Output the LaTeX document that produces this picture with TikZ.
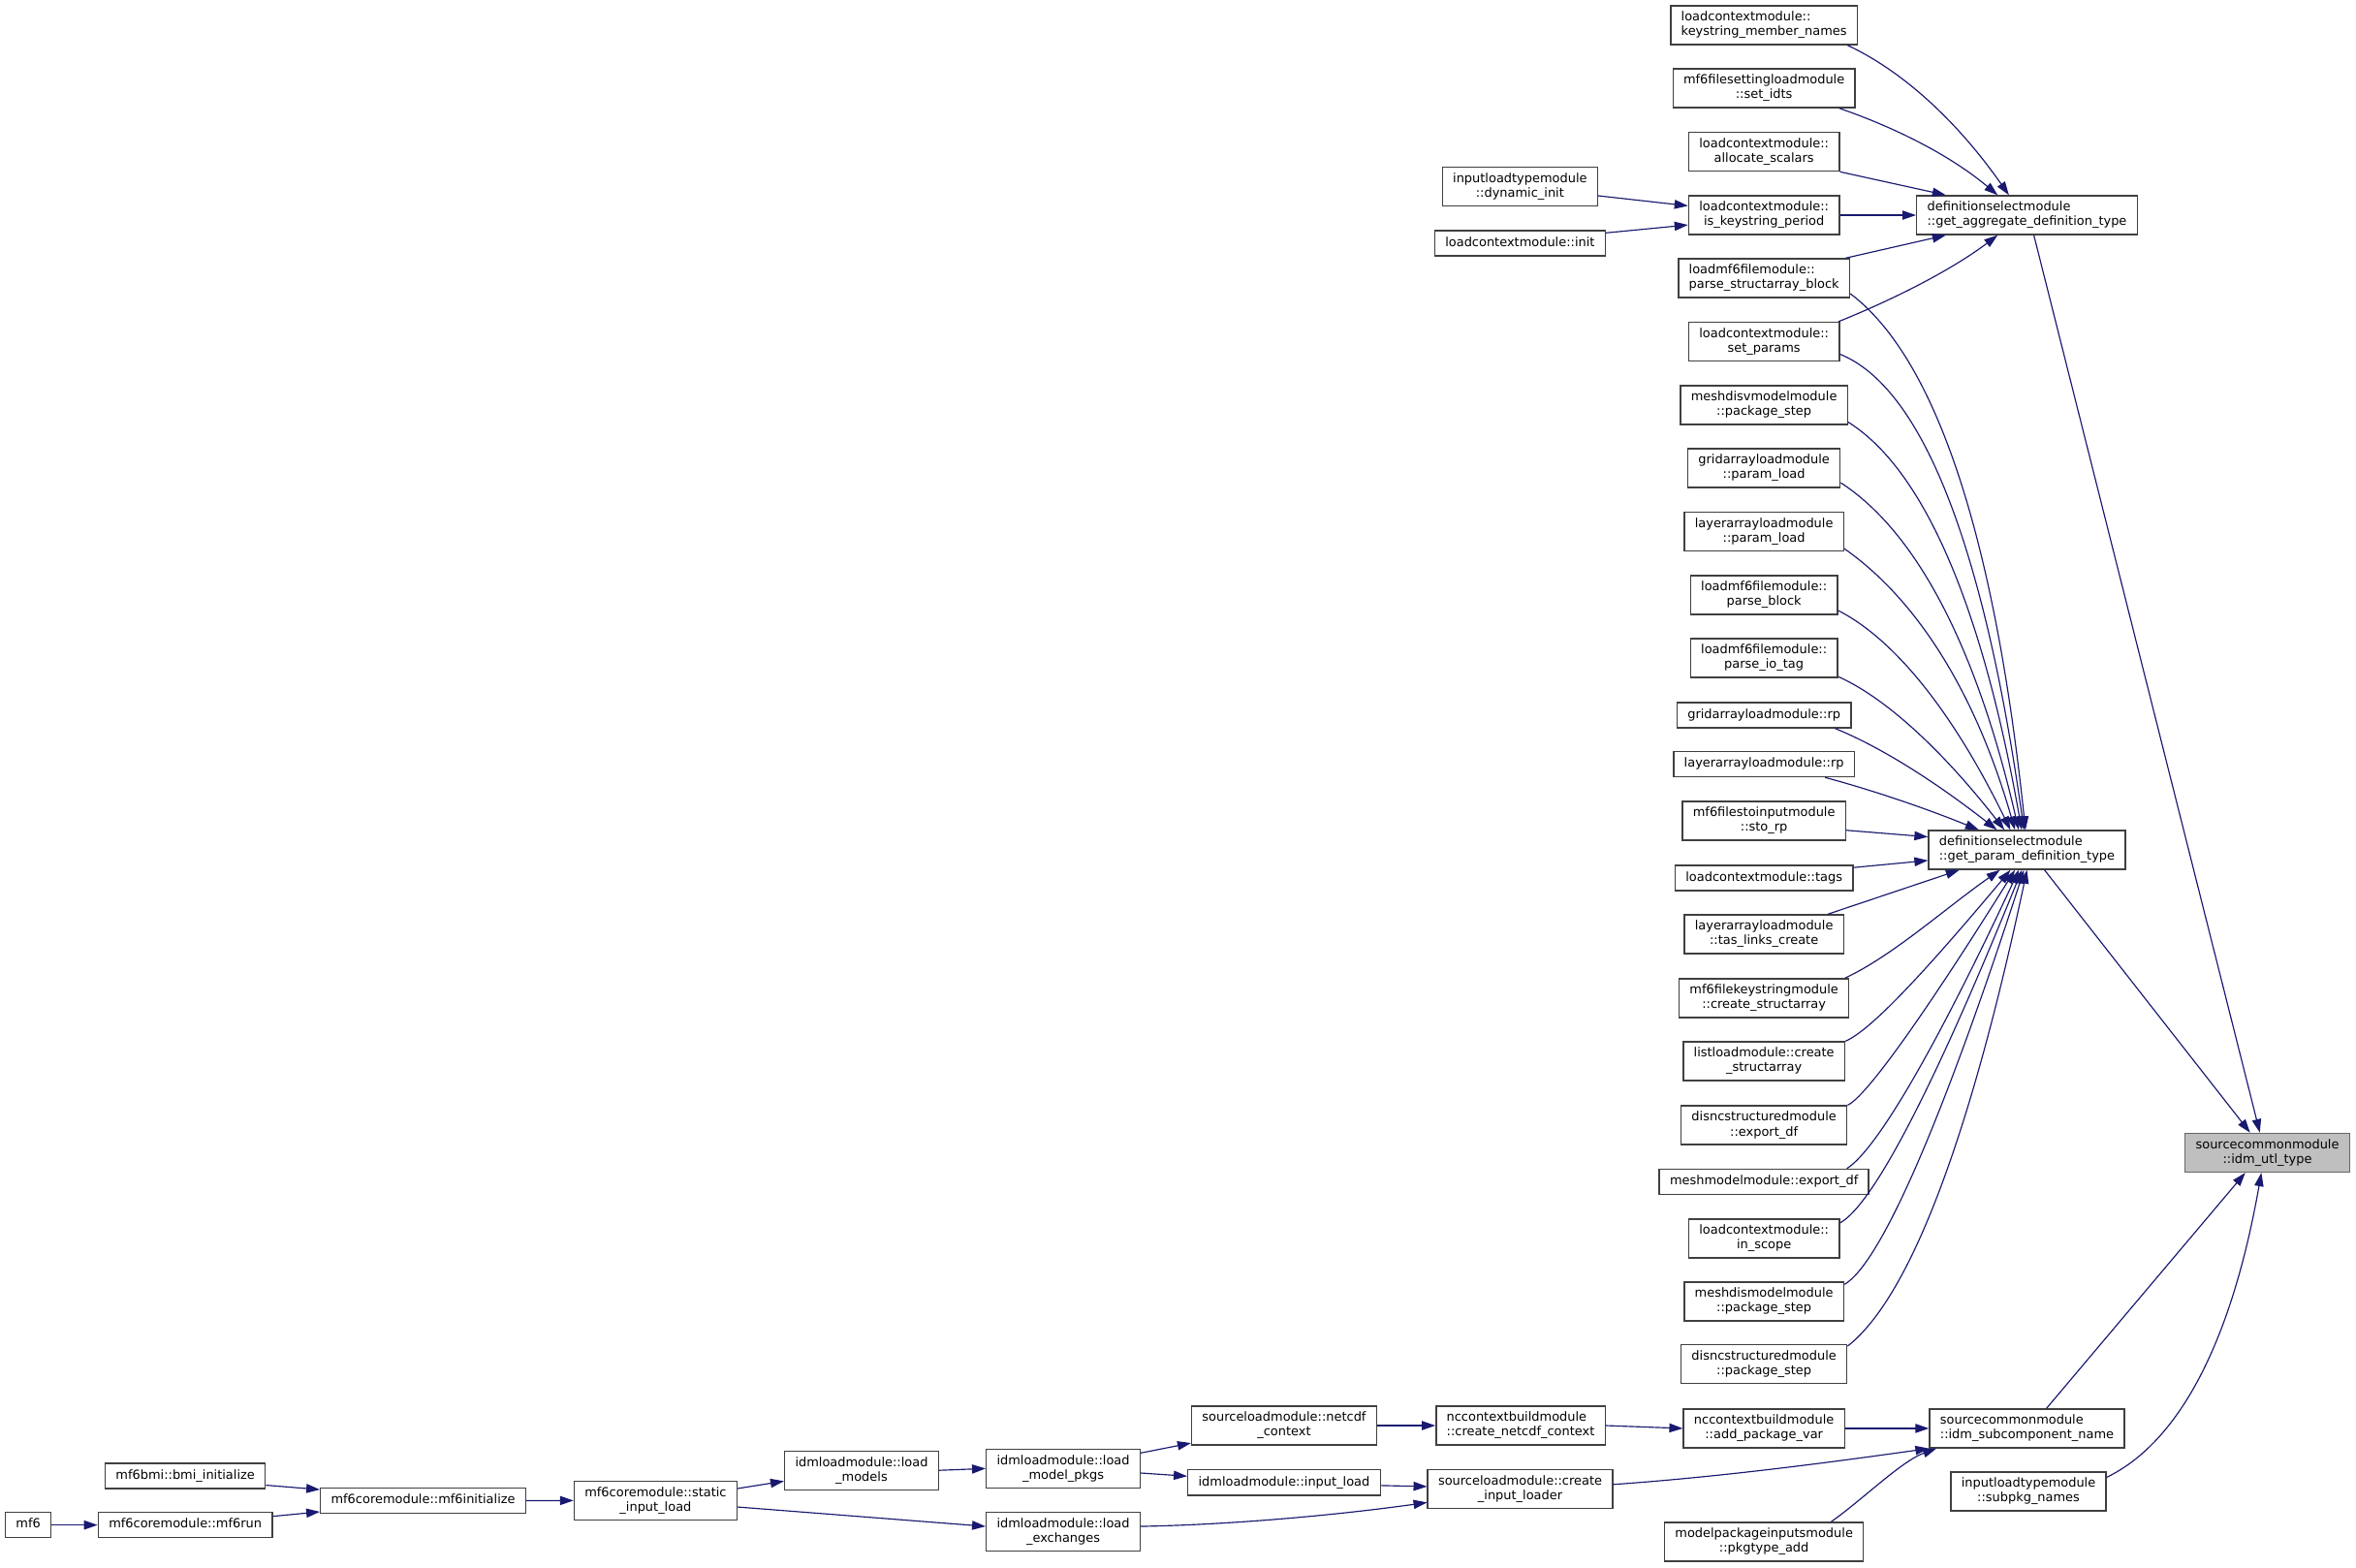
\documentclass[tikz,border=0pt]{standalone}
\usepackage{fontspec}
\setmainfont{DejaVu Sans}
\usetikzlibrary{arrows.meta}
\definecolor{edgeblue}{HTML}{191970}
\definecolor{nodeborder}{HTML}{404040}
\definecolor{rootborder}{HTML}{666666}
\definecolor{rootfill}{HTML}{BFBFBF}
\begin{document}
\begin{tikzpicture}[x=1pt,y=1pt,
  font=\fontsize{8.35pt}{9.7pt}\selectfont,
  nb/.style={draw=nodeborder, line width=0.9pt, fill=white, inner xsep=7pt, inner ysep=0pt},
  fn/.style={nb, minimum height=25.8pt, align=center},
  fnl/.style={nb, minimum height=25.8pt, align=left},
  fo/.style={nb, minimum height=16.8pt, text height=6.3pt, text depth=2pt},
  rootnode/.style={fn, draw=rootborder, fill=rootfill},
  e/.style={draw=edgeblue, line width=0.75pt, -{Triangle[length=9pt,width=6pt]}}]
\useasboundingbox (0,0) rectangle (1568,-1043);
\fill[white] (0,0) rectangle (1568,-1043);

% left chain
\node[fo] (mf6) at (18.8,-1015) {mf6};
\node[fo] (mf6run) at (123.3,-1015) {mf6coremodule::mf6run};
\node[fo] (bmi) at (123.3,-982.4) {mf6bmi::bmi\_initialize};
\node[fo] (mf6init) at (281.6,-998.8) {mf6coremodule::mf6initialize};
\node[fn] (static) at (436.3,-998.7) {mf6coremodule::static\\\_input\_load};
\node[fn] (loadmodels) at (573.4,-978.6) {idmloadmodule::load\\\_models};
\node[fn] (modelpkgs) at (707.6,-977.4) {idmloadmodule::load\\\_model\_pkgs};
\node[fn] (loadexch) at (707.6,-1019.3) {idmloadmodule::load\\\_exchanges};
\node[fn] (netcdfctx) at (854.6,-948.8) {sourceloadmodule::netcdf\\\_context};
\node[fo] (inputload) at (854.6,-986.7) {idmloadmodule::input\_load};
\node[fnl] (createnc) at (1012,-948.8) {nccontextbuildmodule\\::create\_netcdf\_context};
\node[fn] (createloader) at (1011.7,-991) {sourceloadmodule::create\\\_input\_loader};
\node[fn] (dyninit) at (1011.6,-124.3) {inputloadtypemodule\\::dynamic\_init};
\node[fo] (lcinit) at (1011.6,-162) {loadcontextmodule::init};

% column C
\node[fnl] (c1) at (1174,-16.8) {loadcontextmodule::\\keystring\_member\_names};
\node[fn] (c2) at (1174,-58.7) {mf6filesettingloadmodule\\::set\_idts};
\node[fn] (c3) at (1174,-101) {loadcontextmodule::\\allocate\_scalars};
\node[fn] (c4) at (1174,-143.2) {loadcontextmodule::\\is\_keystring\_period};
\node[fnl] (c5) at (1174,-185.1) {loadmf6filemodule::\\parse\_structarray\_block};
\node[fn] (c6) at (1174,-227.4) {loadcontextmodule::\\set\_params};
\node[fn] (c7) at (1174,-269.6) {meshdisvmodelmodule\\::package\_step};
\node[fn] (c8) at (1174,-311.5) {gridarrayloadmodule\\::param\_load};
\node[fn] (c9) at (1174,-353.8) {layerarrayloadmodule\\::param\_load};
\node[fn] (c10) at (1174,-396) {loadmf6filemodule::\\parse\_block};
\node[fn] (c11) at (1174,-438) {loadmf6filemodule::\\parse\_io\_tag};
\node[fo] (c12) at (1174,-476) {gridarrayloadmodule::rp};
\node[fo] (c13) at (1174,-508.6) {layerarrayloadmodule::rp};
\node[fn] (c14) at (1174,-546.3) {mf6filestoinputmodule\\::sto\_rp};
\node[fo] (c15) at (1174,-584.4) {loadcontextmodule::tags};
\node[fn] (c16) at (1174,-621.8) {layerarrayloadmodule\\::tas\_links\_create};
\node[fn] (c17) at (1174,-664.3) {mf6filekeystringmodule\\::create\_structarray};
\node[fn] (c18) at (1174,-706.3) {listloadmodule::create\\\_structarray};
\node[fn] (c19) at (1174,-748.9) {disncstructuredmodule\\::export\_df};
\node[fo] (c20) at (1174,-786.6) {meshmodelmodule::export\_df};
\node[fn] (c21) at (1174,-824.3) {loadcontextmodule::\\in\_scope};
\node[fn] (c22) at (1174,-866.2) {meshdismodelmodule\\::package\_step};
\node[fn] (c23) at (1174,-907.8) {disncstructuredmodule\\::package\_step};
\node[fn] (c24) at (1174,-950.7) {nccontextbuildmodule\\::add\_package\_var};
\node[fn] (c25) at (1174,-1026.2) {modelpackageinputsmodule\\::pkgtype\_add};

% column D and E
\node[fnl] (a) at (1349,-143.2) {definitionselectmodule\\::get\_aggregate\_definition\_type};
\node[fnl] (p) at (1349,-565.7) {definitionselectmodule\\::get\_param\_definition\_type};
\node[fnl] (subname) at (1349,-950.7) {sourcecommonmodule\\::idm\_subcomponent\_name};
\node[fn] (subpkg) at (1350,-992.6) {inputloadtypemodule\\::subpkg\_names};
\node[rootnode] (utl) at (1509,-767.2) {sourcecommonmodule\\::idm\_utl\_type};

% edges to get_aggregate
\draw[e] ([xshift=-7pt]c1.south east) .. controls +(-25:41) and +(125:59.5) .. ([xshift=-12pt]a.north);
\draw[e] ([xshift=-11pt]c2.south east) .. controls +(-19:41) and +(140:40) .. ([xshift=-19.5pt]a.north);
\draw[e] (c3.south east) -- ([xshift=-54pt]a.north);
\draw[e] (c4.east) -- (a.west);
\draw[e] ([xshift=-3pt]c5.north east) -- ([xshift=-54pt]a.south);
\draw[e] ([xshift=-1pt]c6.north east) .. controls +(22:44.5) and +(217:36) .. ([xshift=-19.5pt]a.south);

% into is_keystring_period
\draw[e] ([yshift=-6pt]dyninit.east) -- ([yshift=6.2pt]c4.west);
\draw[e] ([yshift=7pt]lcinit.east) -- ([yshift=-6.5pt]c4.west);

% into idm_utl_type
\draw[e] ([xshift=4.6pt]a.south) -- ([xshift=-5pt]utl.north);
\draw[e] ([xshift=11.7pt]p.south) -- ([xshift=-11.5pt]utl.north);
\draw[e] ([xshift=13pt]subname.north) -- ([xshift=-14.7pt]utl.south);
\draw[e] ([yshift=-4pt]subpkg.north east) .. controls +(26:55) and +(260:112) .. ([xshift=-4pt]utl.south);

% into get_param from above
\draw[e] ([yshift=3pt]c5.south east) .. controls +(-37:71) and +(96:197) .. ([xshift=-1pt]p.north);
\draw[e] ([yshift=5pt]c6.south east) .. controls +(-22:59) and +(98:191) .. ([xshift=-2pt]p.north);
\draw[e] ([yshift=2pt]c7.south east) .. controls +(-32:59) and +(100:152) .. ([xshift=-3.5pt]p.north);
\draw[e] ([yshift=3.5pt]c8.south east) .. controls +(-33:60) and +(103:125) .. ([xshift=-5.5pt]p.north);
\draw[e] ([yshift=2pt]c9.south east) .. controls +(-35:59) and +(106:95) .. ([xshift=-8pt]p.north);
\draw[e] ([yshift=3pt]c10.south east) .. controls +(-27:42) and +(116:87.5) .. ([xshift=-11pt]p.north);
\draw[e] ([yshift=1pt]c11.south east) .. controls +(-24:33) and +(128:70) .. ([xshift=-15pt]p.north);
\draw[e] ([xshift=-11pt]c12.south east) .. controls +(-22:30) and +(142:56) .. ([xshift=-20pt]p.north);
\draw[e] ([xshift=-20pt]c13.south east) .. controls +(-15:25) and +(158:47) .. ([xshift=-32pt]p.north);
\draw[e] ([yshift=-6.3pt]c14.east) -- ([yshift=8.7pt]p.west);
\draw[e] ([yshift=7pt]c15.east) -- ([yshift=-7pt]p.west);

% into get_param from below
\draw[e] ([xshift=-11pt]c16.north east) -- ([xshift=-45pt]p.south);
\draw[e] ([xshift=-3pt]c17.north east) .. controls +(25:35) and +(215:45) .. ([xshift=-18pt]p.south);
\draw[e] (c18.north east) .. controls +(23:19) and +(230:85) .. ([xshift=-11pt]p.south);
\draw[e] (c19.north east) .. controls +(24:13) and +(238:117) .. ([xshift=-8pt]p.south);
\draw[e] ([xshift=-15pt]c20.north east) .. controls +(32:23) and +(245:133) .. ([xshift=-5.4pt]p.south);
\draw[e] ([yshift=-3pt]c21.north east) .. controls +(29:25) and +(248:157) .. ([xshift=-3.4pt]p.south);
\draw[e] ([yshift=-2pt]c22.north east) .. controls +(30:27) and +(252:180) .. ([xshift=-2pt]p.south);
\draw[e] ([yshift=-1.5pt]c23.north east) .. controls +(38:52) and +(258:184) .. (p.south);

% bottom chain
\draw[e] (c24.east) -- (subname.west);
\draw[e] ([yshift=3pt]createloader.east) .. controls +(4:70) and +(188:70) .. (subname.south west);
\draw[e] ([xshift=-22pt]c25.north east) .. controls +(35:25) and +(200:25) .. ([xshift=5pt]subname.south west);
\draw[e] (createnc.east) -- (c24.west);
\draw[e] (netcdfctx.east) -- (createnc.west);
\draw[e] ([yshift=-2pt]inputload.east) -- ([yshift=1.6pt]createloader.west);
\draw[e] ([yshift=3.4pt]loadexch.east) .. controls +(1:60) and +(188:60) .. ([yshift=-9pt]createloader.west);
\draw[e] ([yshift=-3pt]modelpkgs.north east) -- ([yshift=1.7pt]netcdfctx.south west);
\draw[e] ([yshift=-3pt]modelpkgs.east) -- ([yshift=4.2pt]inputload.west);
\draw[e] (loadmodels.east) -- (modelpkgs.west);
\draw[e] ([yshift=8pt]static.east) -- ([yshift=-7.2pt]loadmodels.west);
\draw[e] ([yshift=-4.3pt]static.east) -- ([yshift=3.4pt]loadexch.west);
\draw[e] (mf6init.east) -- (static.west);
\draw[e] ([yshift=-6.1pt]bmi.east) -- ([yshift=7.4pt]mf6init.west);
\draw[e] ([yshift=5.8pt]mf6run.east) -- ([yshift=-7.4pt]mf6init.west);
\draw[e] (mf6.east) -- (mf6run.west);
\end{tikzpicture}
\end{document}
